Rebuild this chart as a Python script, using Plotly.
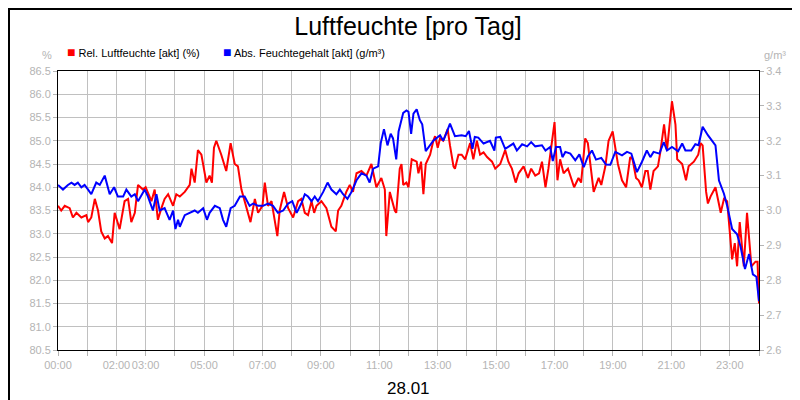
import plotly.graph_objects as go

rel_hours = [0.00,0.11,0.23,0.40,0.51,0.63,0.80,0.97,1.03,1.14,1.26,1.37,1.48,1.60,1.71,1.85,1.94,2.11,2.28,2.40,2.51,2.63,2.74,2.91,3.00,3.20,3.31,3.42,3.54,3.65,3.77,3.94,4.05,4.17,4.34,4.51,4.57,4.68,4.79,4.91,5.08,5.19,5.27,5.34,5.42,5.59,5.76,5.91,6.05,6.16,6.28,6.39,6.59,6.74,6.85,7.00,7.08,7.19,7.31,7.51,7.59,7.74,7.88,8.05,8.22,8.33,8.45,8.56,8.68,8.77,8.85,9.02,9.19,9.36,9.51,9.59,9.70,9.87,9.99,10.10,10.22,10.39,10.56,10.73,10.90,11.07,11.19,11.24,11.36,11.53,11.58,11.70,11.76,11.82,11.93,
 12.0,12.11,12.28,12.34,12.43,12.51,12.59,12.74,12.85,12.91,13.0,13.08,13.19,13.34,13.42,13.54,13.59,13.71,13.82,13.94,14.11,14.22,14.34,14.45,14.57,14.69,14.86,14.97,15.14,15.31,15.42,15.54,15.67,15.77,15.94,16.09,16.2,16.34,16.47,16.57,16.69,16.79,17.0,17.1,17.19,17.31,17.46,17.59,17.67,17.82,17.91,18.05,18.14,18.34,18.51,18.6,18.74,18.85,18.99,19.17,19.31,19.45,19.59,19.67,19.79,19.88,19.99,20.11,20.19,20.28,20.39,20.54,20.62,20.75,20.85,21.02,21.14,21.2,21.37,21.5,21.59,21.77,21.92,22.0,22.07,22.19,22.25,22.34,22.51,22.69,22.8,22.91,23.08,23.17,23.25,23.34,23.48,23.59,23.74,23.88,23.95,24.0]
rel_values = [83.6,83.5,83.6,83.55,83.35,83.45,83.35,83.4,83.25,83.35,83.75,83.5,83.05,82.9,82.95,82.8,83.45,83.1,83.7,83.75,83.25,83.45,84.05,83.95,84.0,83.7,83.95,83.3,83.55,83.75,83.85,83.6,83.85,83.8,83.9,84.05,84.4,84.1,84.8,84.7,84.1,84.25,84.1,84.85,85.0,84.7,84.35,84.95,84.5,84.45,83.95,83.7,83.25,83.75,83.45,83.6,84.1,83.6,83.7,82.95,83.5,83.9,83.55,83.35,83.7,83.75,83.45,83.4,83.7,83.45,83.6,83.7,83.55,83.15,83.05,83.5,83.6,83.9,84.05,83.9,84.3,84.35,84.25,84.5,84.0,84.2,83.95,82.95,83.9,83.5,83.45,84.4,84.5,84.05,84.1,
 84.0,84.6,84.55,84.3,84.55,83.85,84.5,84.7,85.0,85.1,84.85,85.05,85.0,85.25,84.9,84.45,84.4,84.7,84.7,84.6,84.95,84.6,85.0,84.7,84.75,84.65,84.55,84.4,84.5,84.8,84.55,84.4,84.1,84.3,84.45,84.2,84.4,84.25,84.3,84.55,84.0,84.4,85.4,84.15,84.6,84.3,84.4,84.15,84.0,84.2,84.1,85.05,84.95,83.9,84.2,84.05,84.45,85.0,85.2,84.5,84.15,84.0,84.65,84.6,84.2,84.15,84.0,84.35,84.35,83.95,84.35,84.45,84.75,85.35,84.8,85.85,85.35,84.6,84.5,84.15,84.45,84.55,84.7,84.95,84.9,83.9,83.65,83.8,84.0,83.45,83.75,83.7,82.45,82.8,82.3,83.25,82.3,83.45,82.3,82.4,82.4,81.5]

abs_hours_a = [0.0,0.17,0.34,0.46,0.57,0.68,0.8,0.91,1.03,1.14,1.31,1.43,1.6,1.77,1.92,2.05,2.23,2.34,2.51,2.63,2.74,2.97,3.08,3.25,3.37,3.48,3.65,3.82,3.94,4.02,4.11,4.17,4.34,4.51,4.68,4.79,4.97,5.1,5.19,5.37,5.54,5.65,5.76,5.91,6.05,6.23,6.39,6.56,6.68,6.85,7.02,7.19,7.36,7.53,7.71,7.88,8.02,8.17,8.33,8.45,8.56,8.68,8.79,8.9,9.08,9.23,9.36,9.53,9.65,9.76,9.91,10.05,10.22,10.39,10.56,10.67,10.79,10.96,11.05,11.16,11.28,11.39,11.47,11.58,11.66,11.82,11.93]
# first half read in %-axis units, converted to g/m³ below
abs_pct_a = [84.05,83.95,84.05,84.1,84.05,84.1,84.0,84.05,83.95,83.85,84.1,84.05,84.25,83.85,84.0,83.8,83.8,83.95,83.8,83.85,83.7,83.95,83.8,83.5,83.85,83.5,83.55,83.3,83.5,83.1,83.3,83.15,83.4,83.45,83.5,83.45,83.55,83.3,83.45,83.6,83.55,83.3,83.15,83.55,83.6,83.8,83.8,83.6,83.65,83.6,83.6,83.65,83.6,83.45,83.5,83.65,83.7,83.45,83.65,83.85,83.8,83.7,83.8,83.7,83.9,84.1,83.95,83.85,83.95,83.85,83.75,83.9,84.15,84.3,84.25,84.1,84.4,84.45,84.95,85.25,84.9,85.15,85.05,84.6,85.2,85.6,85.65]
abs_hours_b = [12.0,12.09,12.17,12.28,12.39,12.47,12.59,12.7,12.85,13.08,13.19,13.31,13.42,13.59,13.82,13.96,14.07,14.19,14.27,14.39,14.57,14.79,14.94,14.99,15.14,15.31,15.49,15.59,15.71,15.89,16.06,16.2,16.34,16.57,16.69,16.85,16.94,17.05,17.19,17.27,17.37,17.54,17.71,17.85,18.0,18.14,18.28,18.42,18.6,18.76,18.91,19.08,19.31,19.48,19.63,19.82,19.99,20.16,20.28,20.39,20.59,20.74,20.85,21.02,21.23,21.37,21.48,21.68,21.82,21.93,22.07,22.25,22.51,22.63,22.8,22.91,23.08,23.25,23.37,23.52,23.66,23.79,23.91,24.0]
abs_values_b = [3.283,3.22,3.278,3.29,3.259,3.247,3.17,3.182,3.2,3.216,3.2,3.225,3.249,3.213,3.216,3.213,3.228,3.177,3.211,3.209,3.192,3.2,3.172,3.209,3.211,3.177,3.187,3.192,3.172,3.19,3.184,3.196,3.184,3.187,3.172,3.182,3.142,3.182,3.182,3.153,3.168,3.163,3.144,3.161,3.124,3.155,3.172,3.146,3.151,3.132,3.131,3.168,3.158,3.168,3.163,3.11,3.139,3.172,3.153,3.168,3.163,3.196,3.172,3.182,3.17,3.192,3.172,3.172,3.19,3.187,3.24,3.216,3.187,3.086,3.048,3.014,2.947,2.932,2.896,2.832,2.875,2.817,2.81,2.74]

abs_hours = abs_hours_a + abs_hours_b
abs_values = [2.6 + (v - 80.5) / 7.5 for v in abs_pct_a] + abs_values_b

tick_hours = list(range(25))
tick_labels = {0: "00:00", 2: "02:00", 3: "03:00", 5: "05:00", 7: "07:00", 9: "09:00", 11: "11:00",
               13: "13:00", 15: "15:00", 17: "17:00", 19: "19:00", 21: "21:00", 23: "23:00"}

FONT = "Liberation Sans, Arial, sans-serif"
GRAY = "#b4b4b4"
PW, PH = 701, 279

fig = go.Figure()
fig.add_trace(go.Scatter(x=abs_hours, y=abs_values, yaxis="y2", mode="lines",
                         line=dict(color="#0000ff", width=2), showlegend=False))
fig.add_trace(go.Scatter(x=rel_hours, y=rel_values, mode="lines",
                         line=dict(color="#ff0000", width=2), showlegend=False))

fig.update_layout(
    width=800, height=400,
    margin=dict(l=50, r=49, t=63, b=58, autoexpand=False),
    paper_bgcolor="white", plot_bgcolor="white",
    font=dict(family=FONT, color=GRAY, size=11),
    title=dict(text="Luftfeuchte [pro Tag]", x=0.5, xanchor="center", y=1 - 18/400, yanchor="middle",
               font=dict(size=25, color="black", family=FONT)),
    xaxis=dict(range=[0, 24], tickvals=tick_hours, tickangle=0, automargin=False,
               ticktext=[tick_labels.get(h, "") for h in tick_hours],
               showgrid=True, gridcolor="#c0c0c0", gridwidth=1,
               ticks="outside", ticklen=5, tickcolor=GRAY,
               showline=True, linecolor="black", linewidth=1, mirror=True, zeroline=False),
    yaxis=dict(range=[80.5, 86.5], dtick=0.5, tickformat=".1f", automargin=False,
               showgrid=True, gridcolor="#c0c0c0", gridwidth=1,
               ticks="outside", ticklen=4, tickcolor=GRAY,
               showline=True, linecolor="black", linewidth=1, mirror=True, zeroline=False),
    yaxis2=dict(range=[2.6, 3.4], dtick=0.1, tickformat=".1f", overlaying="y", side="right",
                automargin=False, showgrid=False, ticks="outside", ticklen=4, tickcolor=GRAY,
                zeroline=False),
    shapes=[dict(type="rect", xref="paper", yref="paper", x0=-49/PW, x1=1 + 48/PW,
                 y0=-57/PH, y1=1 + 62/PH, line=dict(color="black", width=2))],
    annotations=[
        dict(text="28.01", x=0.5, y=-38/PH, xref="paper", yref="paper", showarrow=False,
             xanchor="center", yanchor="middle", font=dict(size=17, color="black")),
        dict(text="%", x=-4/PW, y=1 + 16/PH, xref="paper", yref="paper", showarrow=False,
             xanchor="right", yanchor="middle", font=dict(size=11, color=GRAY)),
        dict(text="g/m³", x=1 + 3/PW, y=1 + 16/PH, xref="paper", yref="paper", showarrow=False,
             xanchor="left", yanchor="middle", font=dict(size=11, color=GRAY)),
        dict(text='<span style="color:#ff0000;font-size:14px">■</span> Rel. Luftfeuchte [akt] (%)', x=7/PW, y=1 + 19/PH,
             xref="paper", yref="paper", showarrow=False, xanchor="left", yanchor="middle",
             font=dict(size=11, color="black")),
        dict(text='<span style="color:#0000ff;font-size:14px">■</span> Abs. Feuchtegehalt [akt] (g/m³)', x=163/PW, y=1 + 19/PH,
             xref="paper", yref="paper", showarrow=False, xanchor="left", yanchor="middle",
             font=dict(size=11, color="black")),
    ],
)

fig.write_html("out.html")
